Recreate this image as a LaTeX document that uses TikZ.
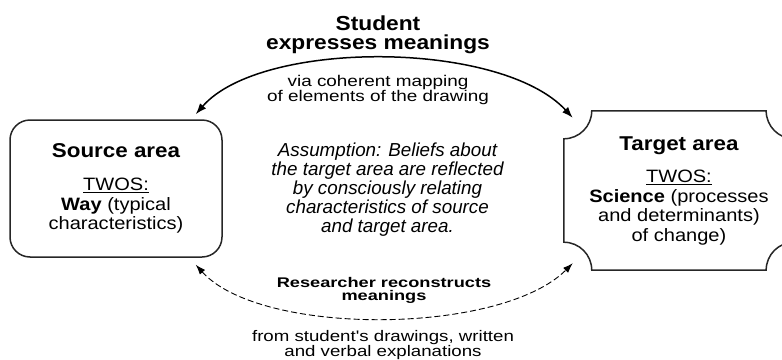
\documentclass[tikz,border=0pt]{standalone}
\usepackage{fontspec}
\setmainfont{Liberation Sans}
\newfontfamily\wideA{Liberation Sans}[FakeStretch=1.12]
\newfontfamily\wideB{Liberation Sans}[FakeStretch=1.22]
\newfontfamily\wideC{Liberation Sans}[FakeStretch=1.30]
\usetikzlibrary{positioning,arrows.meta}

\begin{document}
\begin{tikzpicture}[
    x=1pt, y=-1pt,
    area/.style={minimum width=212pt, minimum height=137pt, inner sep=0pt, align=center, font=\wideA\fontsize{17.9}{19.5}\selectfont},
    frame/.style={line width=1.5pt, draw=black!85},
    arrow/.style={{Latex[length=11pt,width=8pt]}-{Latex[length=11pt,width=8pt]}, line width=1.5pt},
    dasharrow/.style={{Latex[length=10pt,width=7pt]}-{Latex[length=10pt,width=7pt]}, dash pattern=on 6pt off 3pt, line width=0.9pt}]
\useasboundingbox (0,0) rectangle (782,359);
\node[area, draw, frame, rounded corners=20pt] (src) at (116,188.5) {{\bfseries\fontsize{20}{20}\selectfont Source area}\\[13.5pt]\underline{TWOS:}\\\textbf{Way} (typical\\characteristics)};
\node[area, minimum width=230pt, minimum height=159pt, right=341pt of src, yshift=-2pt] (tgt) {{\bfseries\fontsize{20}{20}\selectfont Target area}\\[13pt]\underline{TWOS:}\\\textbf{Science} (processes\\and determinants)\\of change)};
\draw[frame] ([xshift=28pt]tgt.north west) -- ([xshift=-28pt]tgt.north east)
    arc[start angle=180, end angle=270, radius=28pt] -- ([yshift=28pt]tgt.south east)
    arc[start angle=90, end angle=180, radius=28pt] -- ([xshift=28pt]tgt.south west)
    arc[start angle=0, end angle=90, radius=28pt] -- ([yshift=-28pt]tgt.north west)
    arc[start angle=270, end angle=360, radius=28pt] -- cycle;
\node[font=\wideA\bfseries\fontsize{20.3}{19.3}\selectfont, align=center] (student) at (378,35.1) {Student\\expresses meanings};
\node[font=\wideB\fontsize{15.5}{13.4}\selectfont, align=center] (via) at (378,90) {via coherent mapping\\of elements of the drawing};
\node[font=\itshape\fontsize{18.8}{19}\selectfont, align=center] (assume) at (387.5,190) {Assumption: Beliefs about\\the target area are reflected\\by consciously relating\\characteristics of source\\and target area.};
\node[font=\wideC\bfseries\fontsize{14}{13}\selectfont, align=center] (researcher) at (384,290) {Researcher reconstructs\\meanings};
\node[font=\wideB\fontsize{15.3}{14}\selectfont, align=center] (from) at (383,345) {from student's drawings, written\\and verbal explanations};
\draw[arrow] ([shift={(-27,-5)}]src.north east) .. controls +(65,-75) and +(-72,-78) .. ([shift={(9,7)}]tgt.north west);
\draw[dasharrow] ([shift={(-27,7)}]src.south east) .. controls +(65,72) and +(-72,72) .. ([shift={(9,-7)}]tgt.south west);
\end{tikzpicture}
\end{document}
